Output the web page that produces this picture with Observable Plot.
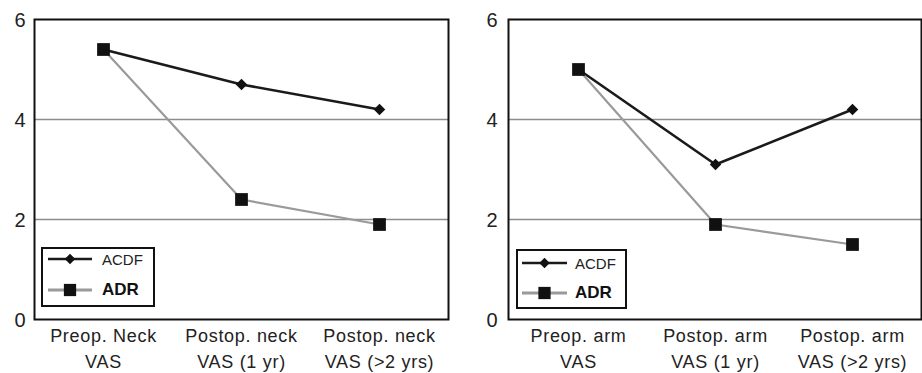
<!DOCTYPE html>
<html>
<head>
<meta charset="utf-8">
<script src="https://cdn.jsdelivr.net/npm/d3@7"></script>
<script src="https://cdn.jsdelivr.net/npm/@observablehq/plot@0.6"></script>
<style>
  html, body { margin: 0; padding: 0; background: #fff; }
  #wrap { position: relative; width: 922px; height: 373px; display: flex; font-family: "Liberation Sans", Arial, sans-serif; }
  .panel { position: relative; }
  .panel svg { display: block; max-width: none; }
  g[aria-label="x-axis tick label"] text { letter-spacing: 0.7px; }
  .legend { position: absolute; border: 2px solid #111; background: #fff; box-sizing: border-box; }
  .legend .row { position: absolute; left: 0; display: flex; align-items: center; }
  .legend svg { display: block; }
  .legend .t1 { font-size: 15px; color: #222; }
  .legend .t2 { font-size: 17px; font-weight: bold; color: #111; }
</style>
</head>
<body>
<div id="wrap"></div>
<script>
// ---- data ----
const neckCategories = ["Preop. Neck\nVAS", "Postop. neck\nVAS (1 yr)", "Postop. neck\nVAS (>2 yrs)"];
const armCategories = ["Preop. arm\nVAS", "Postop. arm\nVAS (1 yr)", "Postop. arm\nVAS (>2 yrs)"];
const neckACDF = [5.4, 4.7, 4.2];
const neckADR = [5.4, 2.4, 1.9];
const armACDF = [5.0, 3.1, 4.2];
const armADR = [5.0, 1.9, 1.5];
const yTicks = [0, 2, 4, 6];
const gridValues = [2, 4];
const seriesNames = ["ACDF", "ADR"];

function rows(cats, vals, series) {
  return cats.map((c, i) => ({category: c, value: vals[i], series}));
}

function panel(cats, acdf, adr, opts) {
  const dA = rows(cats, acdf, "ACDF");
  const dB = rows(cats, adr, "ADR");
  return Plot.plot({
    width: opts.width,
    height: 373,
    marginLeft: opts.marginLeft,
    marginRight: opts.marginRight,
    marginTop: 19,
    marginBottom: 54,
    style: {fontFamily: "Liberation Sans, Arial, sans-serif", color: "#222", background: "#fff"},
    x: {type: "point", domain: cats, padding: 0.5},
    y: {domain: [0, 6]},
    marks: [
      Plot.ruleY(gridValues, {stroke: "#8c8c8c", strokeWidth: 1.5}),
      Plot.axisY({ticks: yTicks, tickFormat: d3.format("d"), tickSize: 0, tickPadding: opts.yPad, fontSize: 20, label: null, dy: 1}),
      Plot.axisX({tickSize: 0, tickPadding: 4, fontSize: 18, lineHeight: 1.45, label: null}),
      Plot.line(dA, {x: "category", y: "value", stroke: "#1a1a1a", strokeWidth: 2.6}),
      Plot.line(dB, {x: "category", y: "value", stroke: "#9a9a9a", strokeWidth: 2.2}),
      Plot.dot(dA, {x: "category", y: "value", symbol: "diamond2", r: 5.2, fill: "#111", stroke: "none"}),
      Plot.dot(dB, {x: "category", y: "value", symbol: "square", r: 7.2, fill: "#111", stroke: "none"}),
      Plot.frame({stroke: "#111", strokeWidth: 2})
    ]
  });
}

function legend(box) {
  const div = document.createElement("div");
  div.className = "legend";
  Object.assign(div.style, {left: box.left + "px", top: box.top + "px", width: box.w + "px", height: box.h + "px"});
  const specs = [
    {name: seriesNames[0], color: "#1a1a1a", sw: 2.6, sym: d3.symbolDiamond2, size: 70, cls: "t1", y: box.y1},
    {name: seriesNames[1], color: "#9a9a9a", sw: 2.8, sym: d3.symbolSquare, size: 150, cls: "t2", y: box.y2}
  ];
  for (const s of specs) {
    const row = document.createElement("div");
    row.className = "row";
    row.style.top = (s.y - 10) + "px";
    row.style.height = "20px";
    const svg = d3.create("svg").attr("width", box.lineEnd + 8).attr("height", 20);
    svg.append("line").attr("x1", box.lineStart).attr("x2", box.lineEnd).attr("y1", 10).attr("y2", 10)
      .attr("stroke", s.color).attr("stroke-width", s.sw);
    svg.append("path").attr("d", d3.symbol(s.sym, s.size)())
      .attr("transform", `translate(${(box.lineStart + box.lineEnd) / 2},10)`).attr("fill", "#111");
    row.appendChild(svg.node());
    const t = document.createElement("span");
    t.className = s.cls;
    t.textContent = s.name;
    t.style.marginLeft = (box.textX - box.lineEnd - 8) + "px";
    row.appendChild(t);
    div.appendChild(row);
  }
  return div;
}

const wrap = document.getElementById("wrap");
const p1 = document.createElement("div"); p1.className = "panel"; p1.style.width = "460px";
const p2 = document.createElement("div"); p2.className = "panel"; p2.style.width = "462px";
p1.appendChild(panel(neckCategories, neckACDF, neckADR, {width: 460, marginLeft: 34, marginRight: 12, yPad: 9}));
p2.appendChild(panel(armCategories, armACDF, armADR, {width: 462, marginLeft: 48, marginRight: 1, yPad: 11}));
p1.appendChild(legend({left: 41, top: 247, w: 114, h: 60, y1: 10, y2: 41, lineStart: 5, lineEnd: 49, textX: 59}));
p2.appendChild(legend({left: 56, top: 249, w: 111, h: 60, y1: 12, y2: 42, lineStart: 4, lineEnd: 49, textX: 57}));
wrap.appendChild(p1);
wrap.appendChild(p2);
</script>
</body>
</html>
